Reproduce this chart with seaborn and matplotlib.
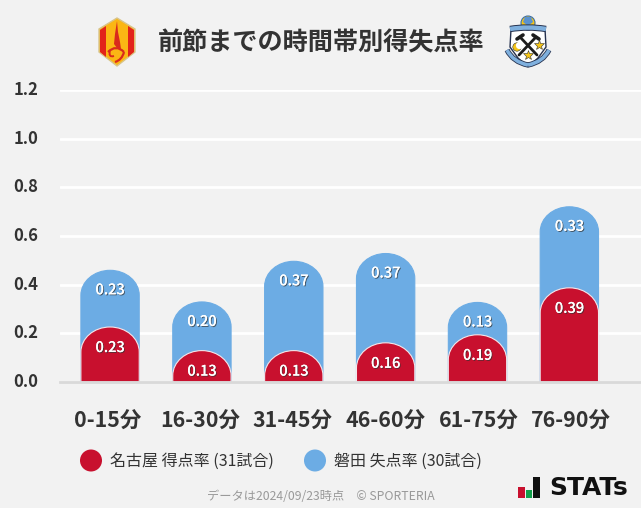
import matplotlib
matplotlib.use('Agg')
import matplotlib.pyplot as plt
import matplotlib.patheffects as pe
from matplotlib.patches import Circle, PathPatch, Polygon, Rectangle
from matplotlib.path import Path
from matplotlib.transforms import ScaledTranslation
import pandas as pd
import seaborn as sns

# データ
periods = ['0-15分', '16-30分', '31-45分', '46-60分', '61-75分', '76-90分']
nagoya_rate = [0.226, 0.129, 0.129, 0.161, 0.194, 0.387]
iwata_rate = [0.233, 0.200, 0.367, 0.367, 0.133, 0.333]
y_ticks = [0.0, 0.2, 0.4, 0.6, 0.8, 1.0, 1.2]

title = '前節までの時間帯別得失点率'
legend_labels = ['名古屋 得点率 (31試合)', '磐田 失点率 (30試合)']
footer = 'データは2024/09/23時点　© SPORTERIA'

RED = '#c8102e'
BLUE = '#6cace4'
BG = '#f2f2f2'
W, H = 641, 508

sns.set_theme(style='white')
plt.rcParams['font.family'] = ['Noto Sans CJK JP', 'DejaVu Sans']


def round_tops(ax, patches, color, edge):
    # 棒の上側を丸くする
    cap_px = 25
    px = (ax.get_ylim()[1] - ax.get_ylim()[0]) / ax.get_window_extent().height
    cap = cap_px * px
    for bar in patches:
        x0, w = bar.get_x(), bar.get_width()
        y0, y1 = bar.get_y(), bar.get_y() + bar.get_height()
        s = y1 - cap
        k = 0.5523
        verts = [(x0, y0), (x0, s),
                 (x0, s + k * cap), (x0 + w / 2 * (1 - k), y1), (x0 + w / 2, y1),
                 (x0 + w / 2 * (1 + k), y1), (x0 + w, s + k * cap), (x0 + w, s),
                 (x0 + w, y0), (x0, y0)]
        codes = [Path.MOVETO, Path.LINETO,
                 Path.CURVE4, Path.CURVE4, Path.CURVE4,
                 Path.CURVE4, Path.CURVE4, Path.CURVE4,
                 Path.LINETO, Path.CLOSEPOLY]
        bar.set_visible(False)
        ax.add_patch(PathPatch(Path(verts, codes), facecolor=color, edgecolor=edge,
                               linewidth=0.8, zorder=bar.get_zorder() + 2))


def curve(o, p0, p1, p2, color, lw):
    o.add_patch(PathPatch(Path([p0, p1, p2], [Path.MOVETO, Path.CURVE3, Path.CURVE3]),
                          fc='none', ec=color, lw=lw, capstyle='butt'))


def draw_logos(fig):
    # 左右のエンブレムと STATs ロゴ(ピクセル座標のオーバーレイ)
    o = fig.add_axes([0, 0, 1, 1], zorder=5)
    o.set_xlim(0, W)
    o.set_ylim(H, 0)
    o.axis('off')

    # 名古屋
    hexagon = [(117, 18), (135, 29), (135, 52), (117, 66), (99, 52), (99, 29)]
    o.add_patch(Polygon(hexagon, closed=True, fc='#fbb614', ec='#d8c48a', lw=1))
    o.add_patch(Polygon([(100, 30), (106, 26), (106, 57), (100, 52)], closed=True, fc='#e2231a', ec='none'))
    o.add_patch(Polygon([(128, 26), (134, 30), (134, 52), (128, 57)], closed=True, fc='#e2231a', ec='none'))
    flame = [(117, 21), (118, 32), (120, 42), (121, 49), (117, 48), (114, 44), (115, 34)]
    o.add_patch(Polygon(flame, closed=True, fc='#d92a1c', ec='none'))
    curve(o, (108, 52), (116, 44), (124, 52), '#d92a1c', 1.6)
    curve(o, (124, 52), (122, 60), (115, 62), '#d92a1c', 1.6)
    curve(o, (110, 50), (108, 58), (114, 56), '#d92a1c', 1.4)

    # 磐田
    shield = [(511, 29), (545, 29), (546, 47), (538, 58), (528, 67), (518, 58), (510, 47)]
    o.add_patch(Polygon(shield, closed=True, fc='white', ec='#26324f', lw=1))
    o.add_patch(Circle((528, 23), 7, fc='#f5c518', ec='#3b6ea8', lw=0.8))
    o.add_patch(Polygon([(525, 17), (531, 17), (533, 22), (528, 26), (523, 22)], closed=True,
                        fc='#5a92cf', ec='none'))
    curve(o, (510, 29), (528, 26), (546, 29), '#26324f', 4.6)
    curve(o, (510, 29), (528, 26), (546, 29), '#7fb0de', 3.2)
    curve(o, (507, 50), (513, 62), (528, 65), '#26324f', 3.8)
    curve(o, (528, 65), (543, 62), (549, 50), '#26324f', 3.8)
    curve(o, (507, 50), (513, 62), (528, 65), '#7fb0de', 2.6)
    curve(o, (528, 65), (543, 62), (549, 50), '#7fb0de', 2.6)
    o.plot([520, 537], [37, 55], color='#1d1d1d', lw=2, solid_capstyle='round')
    o.plot([536, 519], [37, 55], color='#1d1d1d', lw=2, solid_capstyle='round')
    o.plot([517, 523], [39, 35], color='#1d1d1d', lw=2.6, solid_capstyle='round')
    o.plot([533, 539], [35, 39], color='#1d1d1d', lw=2.6, solid_capstyle='round')
    o.add_patch(Circle((517, 47), 4.2, fc='#f5c518', ec='#333333', lw=0.4))
    o.add_patch(Circle((519.5, 45.5), 3.6, fc='white', ec='none'))
    o.plot([539], [45], marker='*', ms=8, mfc='#f5c518', mec='#333333', mew=0.4)
    o.plot([528], [55], marker='*', ms=7, mfc='#f5c518', mec='#333333', mew=0.4)

    # STATs
    o.add_patch(Rectangle((518, 487), 7, 10.5, fc='#c8102e', ec='none'))
    o.add_patch(Rectangle((526, 490), 5.5, 7.5, fc='#12a04b', ec='none'))
    o.add_patch(Rectangle((533, 477), 6.5, 20.5, fc='#111111', ec='none'))
    o.text(549, 488, 'STATs', fontsize=18, fontweight='bold', color='#111111',
           family='DejaVu Sans', va='center', ha='left')


fig = plt.figure(figsize=(W / 100, H / 100), dpi=100, facecolor=BG)
ax = fig.add_axes([60 / W, 1 - 382 / H, (W - 60) / W, 292 / H], facecolor=BG)

df = pd.DataFrame({'period': periods, 'nagoya': nagoya_rate, 'iwata': iwata_rate})
df['total'] = df['nagoya'] + df['iwata']

ax.set_ylim(0, 1.2)
sns.barplot(data=df, x='period', y='total', color=BLUE, width=0.635, saturation=1, ax=ax)
blue_bars = list(ax.patches)
sns.barplot(data=df, x='period', y='nagoya', color=RED, width=0.635, saturation=1, ax=ax)
red_bars = [p for p in ax.patches if p not in blue_bars]
ax.set_xlim(-0.545, 5.78)
ax.set_ylim(0, 1.2)

round_tops(ax, blue_bars, BLUE, BLUE)
round_tops(ax, red_bars, RED, '#f4e6ea')

ax.set_yticks(y_ticks, [f'{v:.1f}' for v in y_ticks])
ax.grid(axis='y', color='white', lw=2)
ax.set_axisbelow(True)
ax.set_xlabel('')
ax.set_ylabel('')
sns.despine(ax=ax, left=True, right=True, top=True, bottom=False)
ax.spines['bottom'].set_color('#d9d9d9')
ax.spines['bottom'].set_linewidth(2)
ax.spines['bottom'].set_zorder(6)
ax.tick_params(axis='y', length=0, pad=15.5, labelsize=12, labelcolor='#333333')
ax.tick_params(axis='x', length=0, pad=21, labelsize=15.4, labelcolor='#333333')
up = ScaledTranslation(0, 1.5 / 72, fig.dpi_scale_trans)
for lab in ax.get_yticklabels():
    lab.set_fontweight('bold')
    lab.set_transform(lab.get_transform() + up)
# 軸ラベルは棒より少し広い間隔で並ぶ
for i, lab in enumerate(ax.get_xticklabels()):
    lab.set_fontweight('bold')
    shift = ((i - 2.5) * 0.9 - 0.5) * 0.72 / 72
    lab.set_transform(lab.get_transform() + ScaledTranslation(shift, 0, fig.dpi_scale_trans))

# 値ラベル
shadow = [pe.withSimplePatchShadow(offset=(0.7, -0.7), shadow_rgbFace='#333333', alpha=0.7),
          pe.Normal()]
px = 1.2 / 292
for i, (n, w) in enumerate(zip(nagoya_rate, iwata_rate)):
    ax.text(i, n - 21 * px, f'{n:.2f}', ha='center', va='center', color='white', fontsize=10.5,
            fontweight='medium', zorder=8, path_effects=shadow)
    ax.text(i, n + w - 20 * px, f'{w:.2f}', ha='center', va='center', color='white', fontsize=10.5,
            fontweight='medium', zorder=8, path_effects=shadow)

fig.text(321 / W, 1 - 43 / H, title, ha='center', va='center', fontsize=18.1, fontweight='bold',
         color='#333333')

# 凡例
leg = fig.add_axes([0, 0, 1, 1], zorder=4)
leg.set_xlim(0, W)
leg.set_ylim(H, 0)
leg.axis('off')
for cx, color, label, tx in zip([91, 315], [RED, BLUE], legend_labels, [110, 334]):
    leg.add_patch(Circle((cx, 460.5), 11, fc=color, ec='none'))
    leg.text(tx, 461, label, va='center', ha='left', fontsize=11.5, color='#333333')
leg.text(321, 497, footer, va='center', ha='center', fontsize=8.8, color='#999999')

draw_logos(fig)

fig.savefig('out.png', dpi=100, facecolor=BG)
